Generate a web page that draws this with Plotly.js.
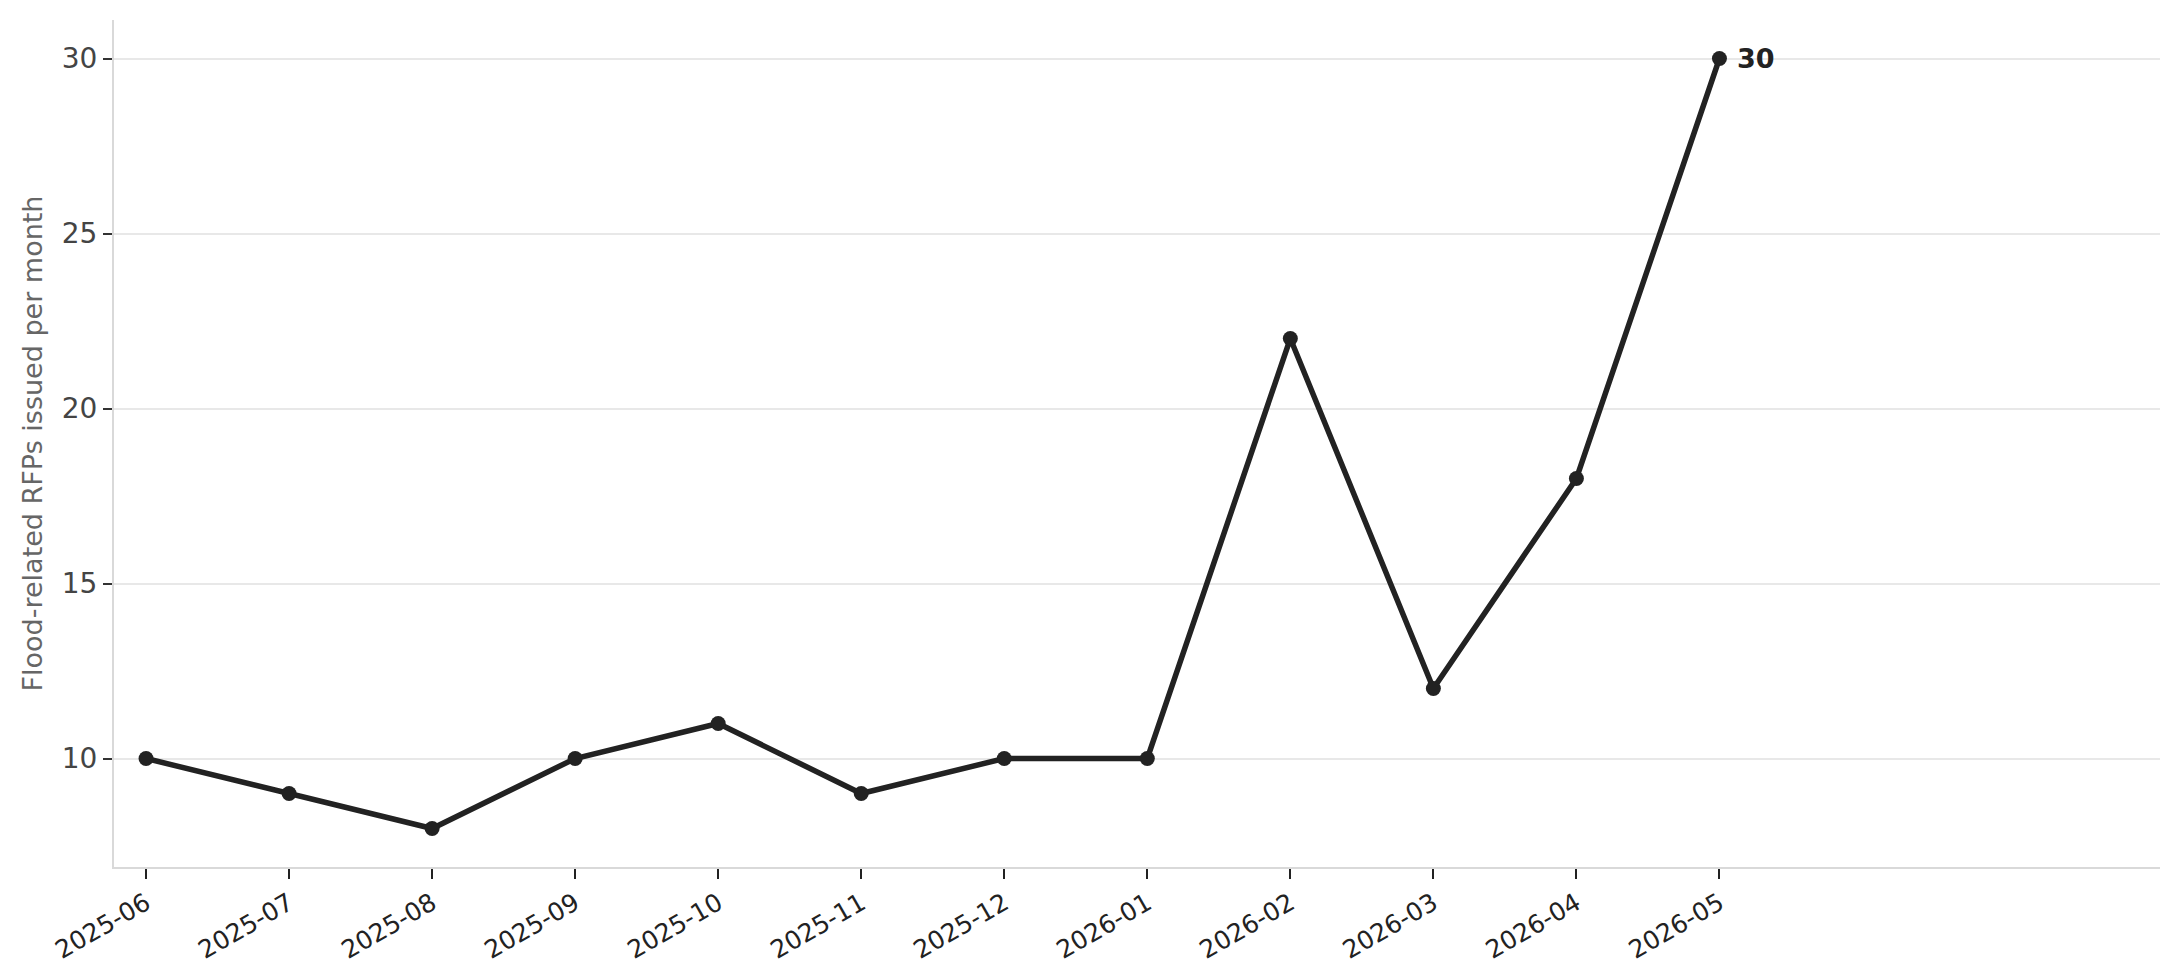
<!DOCTYPE html>
<html>
<head>
<meta charset="utf-8">
<script src="https://cdn.plot.ly/plotly-3.0.1.min.js"></script>
<style>
html,body{margin:0;padding:0;background:#fff;}
#chart{width:2181px;height:980px;}
</style>
</head>
<body>
<div id="chart"></div>
<script>
const months = ["2025-06","2025-07","2025-08","2025-09","2025-10","2025-11","2025-12","2026-01","2026-02","2026-03","2026-04","2026-05"];
const rfpCounts = [10, 9, 8, 10, 11, 9, 10, 10, 22, 12, 18, 30];
const yTicks = [10, 15, 20, 25, 30];
const yTitle = "Flood-related RFPs issued per month";

const lastIdx = rfpCounts.length - 1;

const trace = {
  type: 'scatter',
  mode: 'lines+markers',
  x: months,
  y: rfpCounts,
  line: {color: '#222222', width: 5.5},
  marker: {color: '#222222', size: 15},
  hoverinfo: 'x+y',
  showlegend: false
};

const layout = {
  width: 2181,
  height: 980,
  paper_bgcolor: '#ffffff',
  plot_bgcolor: '#ffffff',
  font: {family: 'DejaVu Sans', color: '#333333'},
  margin: {l: 114, r: 21, t: 20, b: 113, pad: 0},
  xaxis: {
    type: 'category',
    categoryorder: 'array',
    categoryarray: months,
    range: [-0.224, 14.08],
    tickvals: months,
    ticktext: months,
    tickangle: -30,
    ticks: 'outside',
    ticklen: 10,
    tickwidth: 2,
    tickcolor: '#222222',
    tickfont: {size: 25, color: '#222222', family: 'DejaVu Sans'},
    showgrid: false,
    zeroline: false,
    showline: true,
    linecolor: '#d9d9d9',
    linewidth: 2,
    mirror: false
  },
  yaxis: {
    range: [6.9, 31.1],
    tickvals: yTicks,
    ticktext: yTicks.map(String),
    ticks: 'outside',
    ticklen: 9,
    tickwidth: 2,
    tickcolor: '#333333',
    tickfont: {size: 28, color: '#444444', family: 'DejaVu Sans'},
    showgrid: true,
    gridcolor: '#e8e8e8',
    gridwidth: 2,
    zeroline: false,
    showline: true,
    linecolor: '#d9d9d9',
    linewidth: 2,
    title: {text: yTitle, font: {size: 27, color: '#666666', family: 'DejaVu Sans'}, standoff: 11}
  },
  annotations: [{
    x: months[lastIdx],
    y: rfpCounts[lastIdx],
    xref: 'x', yref: 'y',
    text: '<b>' + String(rfpCounts[lastIdx]) + '</b>',
    showarrow: false,
    xanchor: 'left',
    yanchor: 'middle',
    xshift: 16,
    font: {size: 27, color: '#222222', family: 'DejaVu Sans'}
  }]
};

Plotly.newPlot('chart', [trace], layout, {displayModeBar: false, staticPlot: true});
</script>
</body>
</html>
